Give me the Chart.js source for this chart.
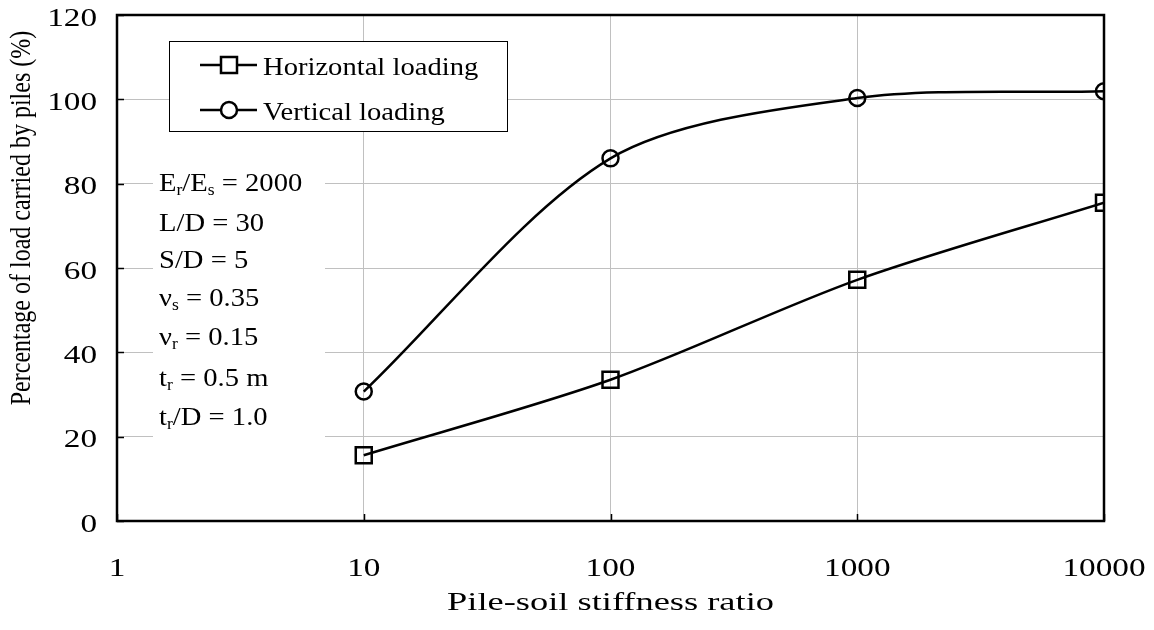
<!DOCTYPE html>
<html>
<head>
<meta charset="utf-8">
<script src="https://cdn.jsdelivr.net/npm/chart.js@4/dist/chart.umd.min.js"></script>
<style>
  html, body { margin: 0; padding: 0; background: #fff; }
  #wrap { width: 1154px; height: 630px; }
</style>
</head>
<body>
<div id="wrap"><canvas id="chart" width="1154" height="630"></canvas></div>
<script>
// data
const stiffnessRatio = [10, 100, 1000, 10000];
const horizontalLoading = [15.6, 33.5, 57.2, 75.5];
const verticalLoading = [30.7, 86.0, 100.3, 101.9];
const xTicks = [1, 10, 100, 1000, 10000];
const yTicks = [0, 20, 40, 60, 80, 100, 120];
const seriesNames = ['Horizontal loading', 'Vertical loading'];
const xTitle = 'Pile-soil stiffness ratio';
const yTitle = 'Percentage of load carried by piles (%)';
// [text, isSubscript]
const notes = [
  [['E'], ['r', 1], ['/E'], ['s', 1], [' = 2000']],
  [['L/D = 30']],
  [['S/D = 5']],
  [['\u03bd'], ['s', 1], [' = 0.35']],
  [['\u03bd'], ['r', 1], [' = 0.15']],
  [['t'], ['r', 1], [' = 0.5 m']],
  [['t'], ['r', 1], ['/D = 1.0']]
];

const FONT = '"Liberation Serif", "Times New Roman", serif';

function txt(ctx, s, x, y, align, size, sx) {
  ctx.save();
  ctx.translate(x, y);
  ctx.scale(sx, 1);
  ctx.font = size + 'px ' + FONT;
  ctx.textAlign = align;
  ctx.textBaseline = 'middle';
  ctx.fillStyle = '#000';
  ctx.fillText(s, 0, 0);
  ctx.restore();
}

function richText(ctx, parts, x, y, size, sx) {
  ctx.save();
  ctx.translate(x, y);
  ctx.scale(sx, 1);
  ctx.textBaseline = 'alphabetic';
  ctx.fillStyle = '#000';
  let cx = 0;
  parts.forEach(p => {
    const sub = p[1];
    ctx.font = (sub ? Math.round(size * 0.62) : size) + 'px ' + FONT;
    ctx.fillText(p[0], cx, sub ? 4 : 0);
    cx += ctx.measureText(p[0]).width;
  });
  ctx.restore();
}

const decor = {
  id: 'decor',
  beforeDatasetsDraw(chart) {
    const ctx = chart.ctx;
    ctx.save();
    // white panel behind the parameter list
    ctx.fillStyle = '#fff';
    ctx.fillRect(153, 160, 172, 288);
    // legend box
    ctx.fillRect(169, 41, 339, 91);
    ctx.strokeStyle = '#000';
    ctx.lineWidth = 1;
    ctx.strokeRect(169.5, 41.5, 338, 90);
    ctx.restore();
  },
  afterDraw(chart) {
    const ctx = chart.ctx;
    const a = chart.chartArea;
    const xs = chart.scales.x, ys = chart.scales.y;
    ctx.save();
    // inward tick marks
    ctx.strokeStyle = '#000';
    ctx.lineWidth = 1.5;
    ctx.beginPath();
    xTicks.forEach(v => {
      const px = Math.round(xs.getPixelForValue(v)) + 0.5;
      ctx.moveTo(px, a.bottom); ctx.lineTo(px, a.bottom - 7);
    });
    yTicks.forEach(v => {
      const py = Math.round(ys.getPixelForValue(v)) + 0.5;
      ctx.moveTo(a.left, py); ctx.lineTo(a.left + 7, py);
    });
    ctx.stroke();
    // frame
    ctx.lineWidth = 2.5;
    ctx.strokeRect(a.left, a.top, a.right - a.left, a.bottom - a.top);

    // tick labels
    xTicks.forEach(v => txt(ctx, String(v), xs.getPixelForValue(v), 569, 'center', 25, 1.33));
    yTicks.forEach(v => txt(ctx, String(v), 97, ys.getPixelForValue(v) + 4, 'right', 25, 1.33));

    // axis titles
    txt(ctx, xTitle, (a.left + a.right) / 2, 603, 'center', 26, 1.4);
    ctx.save();
    ctx.translate(22, 218);
    ctx.scale(1.2, 1);
    ctx.rotate(-Math.PI / 2);
    ctx.font = '24px ' + FONT;
    ctx.textAlign = 'center';
    ctx.textBaseline = 'middle';
    ctx.fillStyle = '#000';
    ctx.fillText(yTitle, 0, 0);
    ctx.restore();

    // legend entries
    const rows = [65, 110];
    const styles = ['rect', 'circle'];
    rows.forEach((ry, i) => {
      ctx.strokeStyle = '#000';
      ctx.lineWidth = 2.5;
      ctx.beginPath();
      ctx.moveTo(200, ry); ctx.lineTo(257, ry);
      ctx.stroke();
      ctx.fillStyle = '#fff';
      if (styles[i] === 'rect') {
        ctx.fillRect(221, ry - 8, 16, 16);
        ctx.strokeRect(221, ry - 8, 16, 16);
      } else {
        ctx.beginPath();
        ctx.arc(229, ry, 8, 0, Math.PI * 2);
        ctx.fill();
        ctx.stroke();
      }
      txt(ctx, seriesNames[i], 263, ry + 3, 'left', 26, 1.1);
    });

    // parameter list
    const lineY = [191, 231, 268, 306, 345, 386, 425];
    notes.forEach((parts, i) => richText(ctx, parts, 159, lineY[i], 26, 1.1));
    ctx.restore();
  }
};

const axisCommon = {
  grid: { color: '#c0c0c0', lineWidth: 1, drawTicks: false },
  border: { display: false },
  ticks: { display: false }
};

new Chart(document.getElementById('chart'), {
  type: 'line',
  data: {
    datasets: [
      {
        label: seriesNames[0],
        data: stiffnessRatio.map((x, i) => ({ x, y: horizontalLoading[i] })),
        borderColor: '#000',
        borderWidth: 2.5,
        pointStyle: 'rect',
        pointRadius: 11.3,
        pointBorderWidth: 2.5,
        pointBorderColor: '#000',
        pointBackgroundColor: 'rgba(0,0,0,0)',
        tension: 0.3,
        fill: false
      },
      {
        label: seriesNames[1],
        data: stiffnessRatio.map((x, i) => ({ x, y: verticalLoading[i] })),
        borderColor: '#000',
        borderWidth: 2.5,
        pointStyle: 'circle',
        pointRadius: 8,
        pointBorderWidth: 2.5,
        pointBorderColor: '#000',
        pointBackgroundColor: 'rgba(0,0,0,0)',
        tension: 0.3,
        fill: false
      }
    ]
  },
  options: {
    responsive: false,
    animation: false,
    layout: { padding: { left: 117, right: 50, top: 15, bottom: 109 } },
    plugins: { legend: { display: false }, tooltip: { enabled: false } },
    scales: {
      x: {
        type: 'logarithmic', min: 1, max: 10000,
        afterBuildTicks: s => { s.ticks = xTicks.map(v => ({ value: v })); },
        ...axisCommon
      },
      y: {
        type: 'linear', min: 0, max: 120,
        afterBuildTicks: s => { s.ticks = yTicks.map(v => ({ value: v })); },
        ...axisCommon
      }
    }
  },
  plugins: [decor]
});
</script>
</body>
</html>
